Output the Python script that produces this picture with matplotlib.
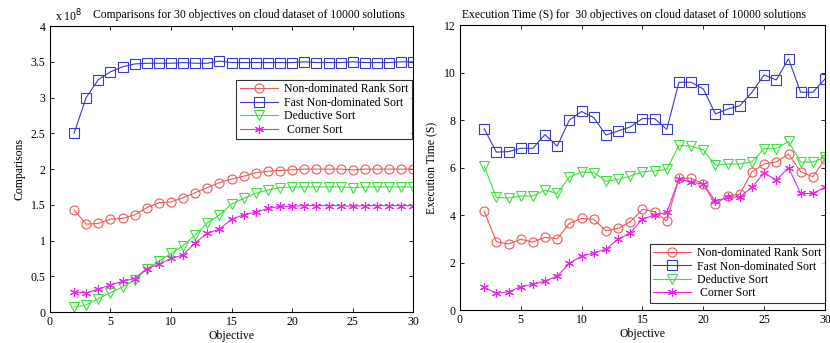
import matplotlib
matplotlib.use('Agg')
import matplotlib.pyplot as plt
from matplotlib.ticker import FuncFormatter

plt.rcParams['font.family'] = ['Liberation Serif', 'DejaVu Serif']

objectives = list(range(2, 31))

# comparisons, in units of 1e8
cmp_nrs = [1.43, 1.23, 1.24, 1.30, 1.31, 1.36, 1.46, 1.53, 1.54, 1.60, 1.67, 1.74, 1.81, 1.86, 1.90,
           1.95, 1.97, 1.98, 1.99, 2.00, 2.00, 2.00, 2.00, 1.99, 2.00, 2.00, 2.00, 2.00, 2.00]
cmp_fns = [2.50, 3.00, 3.25, 3.36, 3.43, 3.47, 3.48, 3.48, 3.48, 3.49, 3.48, 3.48, 3.51, 3.49, 3.49,
           3.49, 3.49, 3.49, 3.49, 3.50, 3.49, 3.49, 3.49, 3.50, 3.49, 3.49, 3.49, 3.50, 3.50]
cmp_ds = [0.07, 0.10, 0.19, 0.27, 0.35, 0.45, 0.60, 0.71, 0.82, 0.93, 1.08, 1.25, 1.36, 1.51, 1.59,
          1.66, 1.71, 1.74, 1.75, 1.75, 1.75, 1.75, 1.75, 1.74, 1.75, 1.75, 1.75, 1.75, 1.75]
cmp_cs = [0.28, 0.27, 0.32, 0.38, 0.43, 0.47, 0.61, 0.67, 0.75, 0.80, 0.97, 1.10, 1.16, 1.30, 1.36,
          1.40, 1.45, 1.48, 1.48, 1.49, 1.49, 1.49, 1.49, 1.48, 1.49, 1.49, 1.49, 1.49, 1.49]

# execution time (s)
t_nrs = [4.17, 2.88, 2.78, 2.98, 2.86, 3.06, 3.00, 3.65, 3.86, 3.82, 3.34, 3.44, 3.72, 4.24, 4.14,
         3.75, 5.55, 5.55, 5.31, 4.45, 4.81, 4.88, 5.82, 6.15, 6.24, 6.57, 5.82, 5.61, 6.37]
t_fns = [7.64, 6.65, 6.67, 6.81, 6.81, 7.39, 6.90, 8.00, 8.36, 8.11, 7.37, 7.54, 7.71, 8.06, 8.06,
         7.61, 9.59, 9.59, 9.31, 8.26, 8.46, 8.60, 9.17, 9.90, 9.69, 10.58, 9.17, 9.17, 9.73]
t_ds = [6.06, 4.74, 4.72, 4.80, 4.80, 5.05, 4.91, 5.60, 5.81, 5.79, 5.43, 5.50, 5.64, 5.82, 5.86,
        5.92, 6.93, 6.90, 6.74, 6.10, 6.15, 6.15, 6.24, 6.80, 6.80, 7.10, 6.23, 6.23, 6.44]
t_cs = [0.96, 0.70, 0.77, 0.98, 1.09, 1.22, 1.43, 1.97, 2.27, 2.41, 2.56, 2.99, 3.25, 3.83, 4.00,
        4.11, 5.52, 5.39, 5.30, 4.59, 4.74, 4.77, 5.17, 5.78, 5.47, 6.00, 4.91, 4.91, 5.17]

labels = ['Non-dominated Rank Sort', 'Fast Non-dominated Sort', 'Deductive Sort', ' Corner Sort']
colors = ['#f05858', '#3a3ac8', '#3ee03e', '#e828e8']
markers = ['o', 's', 'v', (6, 2, 0)]


def style_axes(ax):
    ax.tick_params(direction='in', top=True, right=True, labelsize=8.5, length=3, width=0.6, pad=3)
    for s in ax.spines.values():
        s.set_linewidth(0.8)
    ax.set_xlim(0, 30)
    ax.set_xticks(range(0, 31, 5))
    ax.set_xlabel('Objective', fontsize=8.5, labelpad=1)


def add_legend(ax, **kw):
    leg = ax.legend(fontsize=8.5, frameon=True, fancybox=False, edgecolor='black',
                    borderpad=0.3, labelspacing=0.12, handlelength=3.2, handletextpad=0.5,
                    borderaxespad=0, **kw)
    leg.get_frame().set_linewidth(0.8)
    return leg


fig = plt.figure(figsize=(8.3, 3.43), dpi=100)
ax1 = fig.add_axes([0.060, 0.090, 0.438, 0.834])
ax2 = fig.add_axes([0.554, 0.096, 0.440, 0.831])

for vals, lab, c, m in zip([cmp_nrs, cmp_fns, cmp_ds, cmp_cs], labels, colors, markers):
    ax1.plot(objectives, [v * 1e8 for v in vals], color=c, marker=m, markersize=6.5,
             markerfacecolor='none', markeredgecolor=c, markeredgewidth=0.8, linewidth=0.8, label=lab)
style_axes(ax1)
ax1.set_ylim(0, 4e8)
ax1.set_yticks([i * 0.5e8 for i in range(9)])
ax1.yaxis.set_major_formatter(FuncFormatter(lambda v, p: f'{v / 1e8:g}'))
ax1.set_ylabel('Comparisons', fontsize=8.5, labelpad=4)
fig.text(0.066, 0.952, 'x 10$^{8}$', fontsize=8.5, ha='left', va='center')
fig.text(0.300, 0.955, 'Comparisons for 30 objectives on cloud dataset of 10000 solutions',
         fontsize=8.4, ha='center', va='center')
add_legend(ax1, loc='upper right', bbox_to_anchor=(0.995, 0.812))

for vals, lab, c, m in zip([t_nrs, t_fns, t_ds, t_cs], labels, colors, markers):
    ax2.plot(objectives, vals, color=c, marker=m, markersize=6.5,
             markerfacecolor='none', markeredgecolor=c, markeredgewidth=0.8, linewidth=0.8, label=lab)
style_axes(ax2)
ax2.set_ylim(0, 12)
ax2.set_yticks(range(0, 13, 2))
ax2.set_ylabel('Execution Time (S)', fontsize=8.5, labelpad=4)
fig.text(0.764, 0.955, 'Execution Time (S) for  30 objectives on cloud dataset of 10000 solutions',
         fontsize=8.4, ha='center', va='center')
add_legend(ax2, loc='lower right', bbox_to_anchor=(1.0, 0.025))

fig.savefig('out.png', dpi=100)
